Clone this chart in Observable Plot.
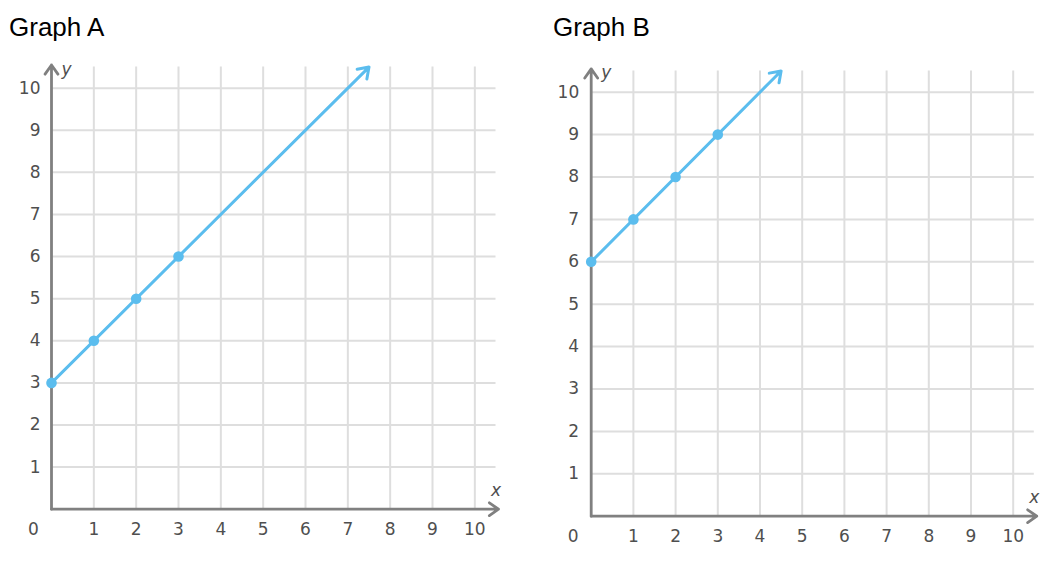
<!DOCTYPE html>
<html><head><meta charset="utf-8">
<script src="https://cdn.jsdelivr.net/npm/d3@7"></script>
<script src="https://cdn.jsdelivr.net/npm/@observablehq/plot@0.6"></script>
<style>
body{margin:0;background:#fff;}
#wrap{position:relative;width:1062px;height:564px;overflow:hidden;background:#fff;}
.title{position:absolute;font-family:"Liberation Sans",Arial,sans-serif;font-size:26px;color:#000;line-height:26px;white-space:nowrap;}
.panel{position:absolute;top:0;}
</style></head><body>
<div id="wrap"></div>
<script>
// ---- data ----
const titles = ["Graph A", "Graph B"];
const xTicks = [1, 2, 3, 4, 5, 6, 7, 8, 9, 10];
const yTicks = [1, 2, 3, 4, 5, 6, 7, 8, 9, 10];
const originLabel = ["0"];
const axisNames = ["x", "y"];
const axisMax = 10.5;
const pointsAx = [0, 1, 2, 3];
const pointsAy = [3, 4, 5, 6];
const pointsBx = [0, 1, 2, 3];
const pointsBy = [6, 7, 8, 9];
const lineAStart = [0, 3], lineAEnd = [7.5, 10.5];
const lineBStart = [0, 6], lineBEnd = [4.5, 10.5];

// ---- layout / style ----
const panels = [
  {title: titles[0], left: 0, titleLeft: 9, xr: [51, 495.5], yr: [508.7, 66.6],
   px: pointsAx, py: pointsAy, ls: lineAStart, le: lineAEnd, ylabDx: -11},
  {title: titles[1], left: 531, titleLeft: 553, xr: [59.7, 502.8], yr: [515.7, 70.5],
   px: pointsBx, py: pointsBy, ls: lineBStart, le: lineBEnd, ylabDx: -12}
];
const blue = "#5bbdee";
const gridColor = "#dedede";
const axisColor = "#808080";
const labelColor = "#4f4f4f";
const tickFont = "DejaVu Sans, Verdana, sans-serif";

const wrap = document.getElementById("wrap");
for (const p of panels) {
  const t = document.createElement("div");
  t.className = "title";
  t.style.left = p.titleLeft + "px";
  t.style.top = "14px";
  t.textContent = p.title;
  wrap.appendChild(t);

  const pts = p.px.map((x, i) => ({x, y: p.py[i]}));
  const seg = [{x1: p.ls[0], y1: p.ls[1], x2: p.le[0], y2: p.le[1]}];

  const chart = Plot.plot({
    width: 531,
    height: 564,
    x: {domain: [0, axisMax], range: p.xr, axis: null},
    y: {domain: [0, axisMax], range: p.yr, axis: null},
    marks: [
      Plot.ruleX(xTicks, {x: d => d, y1: () => 0, y2: () => axisMax, stroke: gridColor, strokeWidth: 2}),
      Plot.ruleY(yTicks, {y: d => d, x1: () => 0, x2: () => axisMax, stroke: gridColor, strokeWidth: 2}),
      Plot.arrow([0], {x1: () => 0, y1: () => 0, x2: () => axisMax + 0.06, y2: () => 0,
        stroke: axisColor, strokeWidth: 2.8, headLength: 6, headAngle: 70}),
      Plot.arrow([0], {x1: () => 0, y1: () => 0, x2: () => 0, y2: () => axisMax + 0.05,
        stroke: axisColor, strokeWidth: 2.8, headLength: 6, headAngle: 70}),
      Plot.arrow(seg, {x1: "x1", y1: "y1", x2: "x2", y2: "y2",
        stroke: blue, strokeWidth: 3, headLength: 6, headAngle: 70}),
      Plot.dot(pts, {x: "x", y: "y", r: 5.3, fill: blue}),
      Plot.text(xTicks, {x: d => d, y: () => 0, dy: 20, text: d => String(d),
        fill: labelColor, fontSize: 17, fontFamily: tickFont, textAnchor: "middle"}),
      Plot.text(yTicks, {x: () => 0, y: d => d, dx: p.ylabDx, text: d => String(d),
        fill: labelColor, fontSize: 17, fontFamily: tickFont, textAnchor: "end"}),
      Plot.text(originLabel, {x: () => 0, y: () => 0, dx: -18, dy: 20, text: d => d,
        fill: labelColor, fontSize: 17, fontFamily: tickFont, textAnchor: "middle"}),
      Plot.text([axisNames[0]], {x: () => axisMax, y: () => 0, dy: -19, text: d => d,
        fill: labelColor, fontSize: 17, fontStyle: "italic", fontFamily: tickFont, textAnchor: "middle"}),
      Plot.text([axisNames[1]], {x: () => 0, y: () => axisMax, dx: 15, dy: 2, text: d => d,
        fill: labelColor, fontSize: 17, fontStyle: "italic", fontFamily: tickFont, textAnchor: "middle"})
    ]
  });
  chart.classList.add("panel");
  chart.style.left = p.left + "px";
  chart.style.background = "transparent";
  wrap.appendChild(chart);
}
</script>
</body></html>
